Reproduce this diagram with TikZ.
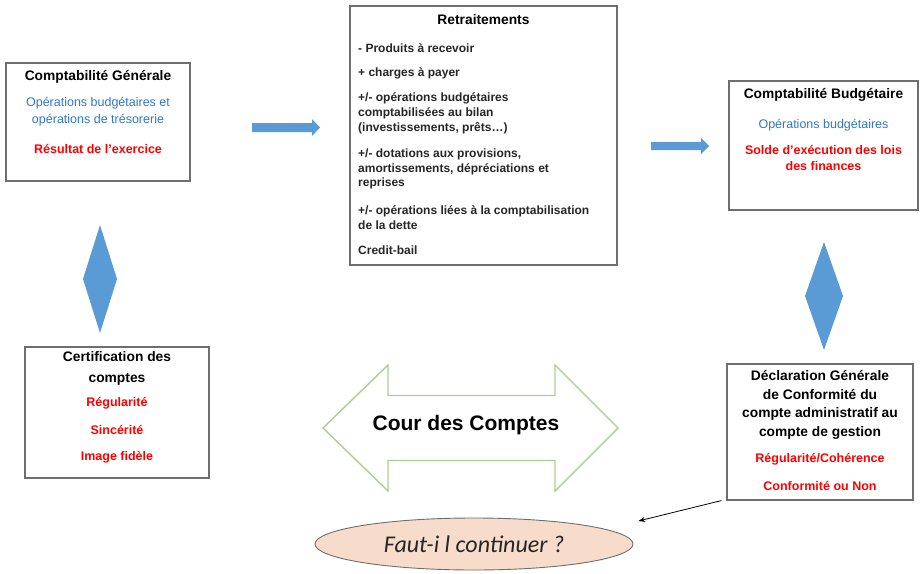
\documentclass[tikz,border=0pt]{standalone}
\usepackage{fontspec}
\setmainfont{Liberation Sans}
\newfontfamily\calib{Carlito}
\usetikzlibrary{arrows.meta}
\definecolor{opblue}{HTML}{2F78CC}
\definecolor{blockblue}{HTML}{5B9BD5}
\definecolor{framegray}{HTML}{6E6E6E}
\definecolor{courgreen}{HTML}{A9D18E}
\definecolor{peach}{HTML}{F8DCCB}
\usetikzlibrary{shapes.geometric}

\begin{document}
\begin{tikzpicture}[x=1pt, y=-1pt, >={Stealth[]},
  frame/.style={draw=framegray, line width=1.1pt, fill=white, inner sep=0pt},
  ttl/.style={font=\bfseries\fontsize{13.8}{18.7}\selectfont, align=center, inner sep=0pt},
  ops/.style={text=opblue, font=\fontsize{12.5}{17}\selectfont, align=center, inner sep=0pt},
  res/.style={text=red, font=\bfseries\fontsize{12.5}{16}\selectfont, align=center, inner sep=0pt},
  item/.style={text=black!85, font=\bfseries\fontsize{12}{15}\selectfont, align=left, anchor=west, inner sep=0pt},
  block/.style={fill=blockblue, draw=none},
]
\useasboundingbox (0,0) rectangle (921,573);

% boxes
\node[frame, minimum width=184, minimum height=118] (cg) at (98,122) {};
\node[frame, minimum width=267, minimum height=259] (retr) at (483.5,135.5) {};
\node[frame, minimum width=189, minimum height=129] (cb) at (823.5,145.5) {};
\node[frame, minimum width=184, minimum height=131] (certif) at (117,412.5) {};
\node[frame, minimum width=186, minimum height=136] (dgc) at (820,432) {};

% Comptabilite generale
\node[ttl] (cgTitle) at (98,77) {Comptabilité Générale};
\node[ops] (cgOps) at (98,111.5) {Opérations budgétaires et\\opérations de trésorerie};
\node[res] (cgRes) at (98,149) {Résultat de l'exercice};

% Retraitements
\node[ttl] (retrTitle) at (483.5,20) {Retraitements};
\node[item] (retrA) at (358,48) {- Produits à recevoir};
\node[item] (retrB) at (358,73) {+ charges à payer};
\node[item] (retrC) at (358,113) {+/- opérations budgétaires\\comptabilisées au bilan\\(investissements, prêts…)};
\node[item, font=\bfseries\fontsize{12}{14.5}\selectfont] (retrD) at (358,169) {+/- dotations aux provisions,\\amortissements, dépréciations et\\reprises};
\node[item] (retrE) at (358,217.5) {+/- opérations liées à la comptabilisation\\de la dette};
\node[item] (retrF) at (358,250) {Credit-bail};

% Comptabilite budgetaire
\node[ttl] (cbTitle) at (823.5,95) {Comptabilité Budgétaire};
\node[ops] (cbOps) at (823.5,125) {Opérations budgétaires};
\node[res] (cbRes) at (823.5,158) {Solde d’exécution des lois\\des finances};

% Certification
\node[ttl, font=\bfseries\fontsize{13.8}{21}\selectfont] (certTitle) at (117,368.5) {Certification des\\comptes};
\node[res] (certA) at (117,403) {Régularité};
\node[res] (certB) at (117,430) {Sincérité};
\node[res] (certC) at (117,457) {Image fidèle};

% Declaration generale de conformite
\node[ttl] (dgcTitle) at (820,405) {Déclaration Générale\\de Conformité du\\compte administratif au\\compte de gestion};
\node[res] (dgcA) at (820,459) {Régularité/Cohérence};
\node[res] (dgcB) at (820,486) {Conformité ou Non};

% block arrows and diamonds
\fill[block] (252,123) -- (312,123) -- (312,119) -- (320,127.5) -- (312,136) -- (312,132) -- (252,132) -- cycle;
\fill[block] (651,142) -- (701,142) -- (701,138) -- (709,146) -- (701,154) -- (701,150) -- (651,150) -- cycle;
\fill[block] (100,225) -- (117,279) -- (100,333) -- (83,279) -- cycle;
\fill[block] (824,242) -- (843,296) -- (824,350) -- (805,296) -- cycle;

% Cour des Comptes
\draw[courgreen, line width=1.4pt, fill=white] (323,428) -- (388,365) -- (388,395.5) -- (555,395.5) -- (555,365) -- (618,428)
  -- (555,491) -- (555,460.5) -- (388,460.5) -- (388,491) -- cycle;
\node[font=\bfseries\fontsize{21}{24}\selectfont, inner sep=0pt] (cour) at (466,425) {Cour des Comptes};

% Faut-il continuer
\node[ellipse, draw=framegray, line width=0.9pt, fill=peach, minimum width=318, minimum height=52, inner sep=0pt,
  font=\calib\itshape\fontsize{24}{27}\selectfont, text=black!85] (faut) at (474,544) {Faut-i l continuer ?};
\coordinate (fautEnd) at ([xshift=5,yshift=23]faut.east);
\draw[->, line width=0.8pt] ([xshift=-5]dgc.south west) -- (fautEnd);
\end{tikzpicture}
\end{document}
